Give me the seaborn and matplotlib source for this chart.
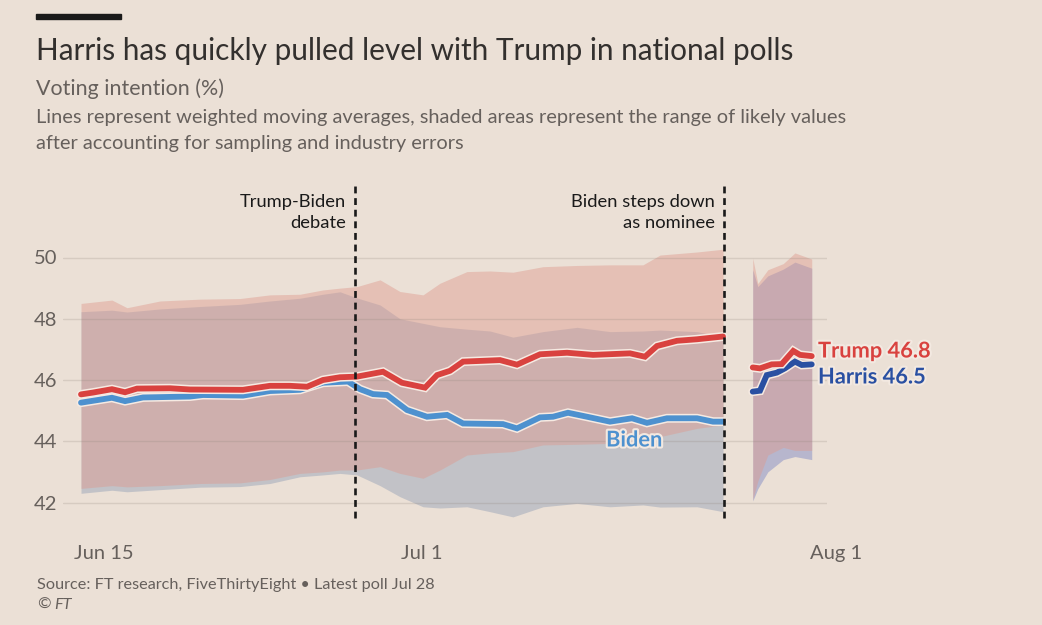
import numpy as np
import pandas as pd
import matplotlib
matplotlib.use("Agg")
import matplotlib.pyplot as plt
import matplotlib.patheffects as pe
import matplotlib.transforms as mtransforms
import seaborn as sns

# ---------------- data (x = chart day index, y = voting intention %) ----------------
trump_x = [0, 0.78, 2.01, 2.86, 3.64, 5.78, 7.08, 10.52, 12.27, 13.57, 14.68, 15.71,
           16.82, 17.92, 19.61, 20.84, 22.34, 23.12, 23.96, 24.81, 27.21, 28.31, 29.81,
           31.56, 33.25, 35.65, 36.62, 37.40, 38.70, 40.0, 41.69]
trump_y = [45.53, 45.59, 45.70, 45.60, 45.72, 45.73, 45.69, 45.68, 45.81, 45.81, 45.78, 46.00,
           46.09, 46.11, 46.27, 45.91, 45.75, 46.16, 46.30, 46.60, 46.65, 46.50, 46.84,
           46.89, 46.82, 46.87, 46.76, 47.11, 47.28, 47.33, 47.42]

biden_x = [0, 2.01, 2.86, 4.03, 7.08, 7.92, 10.52, 12.27, 14.22, 15.71, 17.34, 18.12, 18.96,
           19.87, 21.17, 22.47, 23.77, 24.81, 27.40, 28.31, 29.81, 30.65, 31.62, 32.86,
           34.35, 35.78, 36.75, 38.05, 40.0, 41.04, 41.69]
biden_y = [45.26, 45.42, 45.31, 45.43, 45.46, 45.51, 45.49, 45.64, 45.68, 45.91, 45.95, 45.70,
           45.54, 45.51, 45.02, 44.80, 44.86, 44.58, 44.56, 44.42, 44.78, 44.80, 44.93,
           44.80, 44.64, 44.75, 44.60, 44.75, 44.75, 44.64, 44.64]

band_x = [0, 2.01, 2.99, 5.13, 7.73, 10.32, 12.27, 14.22, 15.71, 16.82, 17.92, 19.42, 20.71,
          22.21, 23.31, 25.06, 26.56, 28.05, 30.0, 32.21, 34.35, 36.49, 37.60, 40.0, 41.69]
trump_hi = [48.50, 48.61, 48.36, 48.58, 48.64, 48.66, 48.78, 48.80, 48.94, 49.00, 49.05, 49.27,
            48.89, 48.78, 49.16, 49.54, 49.56, 49.52, 49.70, 49.74, 49.76, 49.76, 50.08,
            50.18, 50.27]
trump_lo = [42.46, 42.55, 42.51, 42.55, 42.62, 42.64, 42.75, 42.95, 43.00, 43.06, 43.06, 43.17,
            42.95, 42.79, 43.06, 43.55, 43.62, 43.66, 43.88, 43.90, 43.93, 44.00, 44.15,
            44.42, 44.53]
biden_hi = [48.23, 48.28, 48.22, 48.32, 48.40, 48.47, 48.58, 48.67, 48.80, 48.88, 48.68, 48.45,
            48.00, 47.85, 47.74, 47.66, 47.60, 47.40, 47.58, 47.72, 47.58, 47.60, 47.63,
            47.58, 47.40]
biden_lo = [42.30, 42.40, 42.35, 42.42, 42.50, 42.52, 42.62, 42.84, 42.90, 42.95, 42.90, 42.55,
            42.19, 41.86, 41.82, 41.86, 41.70, 41.53, 41.86, 41.97, 41.86, 41.92, 41.85,
            41.86, 41.70]

trump2_x = [43.62, 44.09, 44.85, 45.50, 46.25, 46.69, 47.45]
trump2_y = [46.41, 46.38, 46.51, 46.52, 46.95, 46.82, 46.78]
harris_x = [43.62, 44.09, 44.53, 45.18, 45.71, 46.36, 46.80, 47.45]
harris_y = [45.62, 45.65, 46.16, 46.24, 46.38, 46.60, 46.49, 46.51]

band2_x = [43.62, 43.95, 44.60, 45.60, 46.36, 47.45]
trump2_hi = [49.98, 49.15, 49.60, 49.80, 50.15, 49.95]
trump2_lo = [42.10, 42.70, 43.55, 43.80, 43.70, 43.70]
harris_hi = [49.60, 49.05, 49.40, 49.62, 49.85, 49.65]
harris_lo = [42.05, 42.45, 43.00, 43.40, 43.50, 43.40]

event_x = [17.79, 41.75]
event_labels = ["Trump-Biden\ndebate", "Biden steps down\nas nominee"]
tick_pos = [0, 21.23, 47.79]
tick_labels = ["Jun 15", "Jul 1", "Aug 1"]
y_ticks = [42, 44, 46, 48, 50]

# ---------------- style ----------------
BG = "#EBE0D6"
DARK = "#33302E"
GREY = "#66605C"
RED = "#D9423F"
BLUE = "#4D91CF"
NAVY = "#2A50A2"

sns.set_theme(style="white")
plt.rcParams["font.family"] = ["Lato", "DejaVu Sans"]

W, H = 1042, 625
fig = plt.figure(figsize=(W / 100, H / 100), dpi=100)
fig.patch.set_facecolor(BG)

def fx(px):
    return px / W

def fy(py):
    return 1 - py / H

L, R, T, B = 63, 827, 180, 520
ax = fig.add_axes([fx(L), fy(B), (R - L) / W, (B - T) / H])
ax.set_facecolor(BG)
d0 = (L - 81) / 15.4
d1 = (R - 81) / 15.4
ax.set_xlim(d0, d1)
ax.set_ylim(46 - (B - 380) / 30.625, 46 + (380 - T) / 30.625)

# bands
ax.fill_between(band_x, biden_lo, biden_hi, color="#B7BAC3", alpha=0.78, lw=0, zorder=1)
ax.fill_between(band_x, trump_lo, trump_hi, color="#DE9A8E", alpha=0.45, lw=0, zorder=1.1)
ax.fill_between(band2_x, harris_lo, harris_hi, color="#A6A8CA", alpha=0.75, lw=0, zorder=1)
ax.fill_between(band2_x, trump2_lo, trump2_hi, color="#DE9A8E", alpha=0.45, lw=0, zorder=1.1)

# gridlines
for yv in y_ticks:
    ax.axhline(yv, color="#8E8279", alpha=0.22, lw=1, zorder=1.5)

outline = [pe.Stroke(linewidth=6.4, foreground="#F6EAE2"), pe.Normal()]

def line(xs, ys, color, z):
    df = pd.DataFrame({"x": xs, "y": ys})
    sns.lineplot(data=df, x="x", y="y", ax=ax, color=color, lw=4.2, zorder=z,
                 solid_joinstyle="miter", path_effects=outline, errorbar=None, estimator=None)

line(biden_x, biden_y, BLUE, 4)
line(trump_x, trump_y, RED, 5)
line(harris_x, harris_y, NAVY, 4)
line(trump2_x, trump2_y, RED, 5)

# event lines
for ex in event_x:
    ax.axvline(ex, ymin=(B - 518) / (B - T), ymax=(B - 183) / (B - T), color="#1A1A1A",
               lw=1.9, ls=(0, (2.6, 1.8)), zorder=6, clip_on=False)

# axes cosmetics
ax.set_xlabel("")
ax.set_ylabel("")
for s in ax.spines.values():
    s.set_visible(False)
ax.set_yticks(y_ticks)
ax.set_yticklabels([str(v) for v in y_ticks])
ax.tick_params(axis="y", length=0, pad=4, labelsize=14.5, labelcolor=GREY)
ax.set_xticks(tick_pos)
ax.set_xticklabels(tick_labels)
ax.tick_params(axis="x", length=9, width=1, color="#D3C8BE", pad=9, labelsize=14.5, labelcolor=GREY)
offset = mtransforms.ScaledTranslation(-7 / 100, 0, fig.dpi_scale_trans)
for lab in ax.get_xticklabels():
    lab.set_horizontalalignment("left")
    lab.set_transform(lab.get_transform() + offset)

# ---------------- texts ----------------
fig.patches.append(plt.Rectangle((fx(36), fy(19)), (121 - 36) / W, 5 / H, transform=fig.transFigure,
                                 color="#1A1A1A", zorder=10))

def fit(t, target):
    fig.canvas.draw()
    w = t.get_window_extent(fig.canvas.get_renderer()).width
    t.set_fontsize(t.get_fontsize() * target / w)

t_title = fig.text(fx(36), fy(60), "Harris has quickly pulled level with Trump in national polls",
                   fontsize=20, color=DARK, va="baseline", ha="left")
fit(t_title, 761)
t_sub = fig.text(fx(36), fy(95), "Voting intention (%)", fontsize=14, color=GREY, va="baseline")
fit(t_sub, 187)
t_d1 = fig.text(fx(36), fy(123), "Lines represent weighted moving averages, shaded areas represent the range of likely values",
                fontsize=13, color=GREY, va="baseline")
fit(t_d1, 810)
t_d2 = fig.text(fx(36), fy(149), "after accounting for sampling and industry errors",
                fontsize=t_d1.get_fontsize(), color=GREY, va="baseline")
t_s = fig.text(fx(37), fy(589), "Source: FT research, FiveThirtyEight \u2022 Latest poll Jul 28",
               fontsize=11, color=GREY, va="baseline")
fit(t_s, 395)
t_c = fig.text(fx(37), fy(609), "\u00a9", fontsize=t_s.get_fontsize(), color=GREY, va="baseline")
fig.canvas.draw()
cw = t_c.get_window_extent(fig.canvas.get_renderer()).x1
fig.text((cw + 4) / W, fy(609), "FT", fontsize=t_s.get_fontsize(), color=GREY, va="baseline",
         style="italic")

# event annotations
a1 = fig.text(fx(346), fy(207), "Trump-Biden", fontsize=13, color="#1A1A1A", ha="right", va="baseline")
fit(a1, 106)
fig.text(fx(346), fy(228), "debate", fontsize=a1.get_fontsize(), color="#1A1A1A", ha="right", va="baseline")
fig.text(fx(715), fy(207), "Biden steps down", fontsize=a1.get_fontsize(), color="#1A1A1A", ha="right", va="baseline")
fig.text(fx(715), fy(228), "as nominee", fontsize=a1.get_fontsize(), color="#1A1A1A", ha="right", va="baseline")

# series labels
lab_outline = [pe.withStroke(linewidth=3, foreground="#F3E9E1")]
tb = fig.text(fx(818), fy(351), "Trump 46.8", fontsize=15, color=RED, fontweight="bold", va="center",
              path_effects=lab_outline)
fit(tb, 113)
fig.text(fx(818), fy(377), "Harris 46.5", fontsize=tb.get_fontsize(), color=NAVY, fontweight="bold",
         va="center", path_effects=lab_outline)
fig.text(fx(634), fy(440), "Biden", fontsize=tb.get_fontsize(), color=BLUE, fontweight="bold",
         va="center", ha="center", path_effects=lab_outline, zorder=10)

fig.savefig("out.png", dpi=100, facecolor=BG)
